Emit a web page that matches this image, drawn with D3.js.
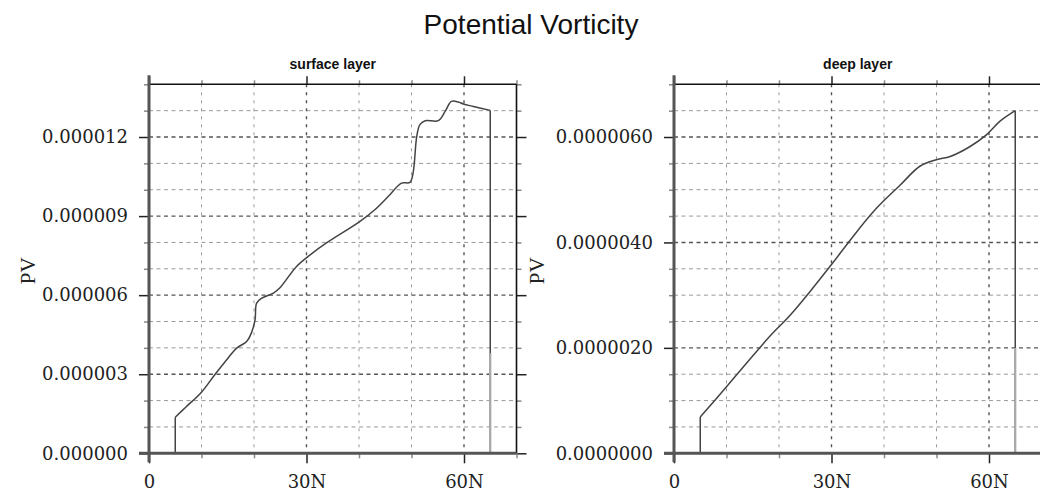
<!DOCTYPE html>
<html lang="en">
<head>
<meta charset="UTF-8" />
<title>Potential Vorticity</title>
<script src="https://d3js.org/d3.v7.min.js"></script>
<style>
  body { margin: 0; background: #fff; }
  svg { display: block; }
  .tick text { font-family: "DejaVu Serif", serif; font-size: 18px; fill: #222; }
  .title { font-family: "Liberation Sans", Arial, sans-serif; font-size: 28px; fill: #111; }
  .sub { font-family: "Liberation Sans", Arial, sans-serif; font-size: 14px; font-weight: bold; fill: #111; }
  .ylab { font-family: "Liberation Serif", serif; font-size: 21px; fill: #222; }
</style>
</head>
<body>
<svg id="chart" width="1040" height="491"></svg>
<script>
/* ---------------- DATA ---------------- */

const latMajor = [0, 30, 60];
const latLabels = ["0", "30N", "60N"];
const latMinor = [10, 20, 40, 50, 70];

// surface layer
const surfLat = [5, 5, 7, 10, 12.6, 15, 16.7, 18.6, 19.5, 20.2, 20.5, 21.5, 23.7, 24.9, 28.1, 30.7, 33.8,
  40.2, 43, 45.6, 48.1, 49.7, 50.3, 51.0, 51.6, 52.6, 55.1, 56.4, 57.6, 58.9, 59.9, 61.8, 65, 65];
const surfPV = [0, 1.37e-6, 1.75e-6, 2.32e-6, 3.0e-6, 3.6e-6, 3.99e-6, 4.24e-6, 4.56e-6, 5.06e-6, 5.7e-6,
  5.89e-6, 6.08e-6, 6.27e-6, 7.09e-6, 7.53e-6, 7.98e-6, 8.8e-6, 9.24e-6, 9.75e-6, 10.25e-6, 10.28e-6,
  10.63e-6, 12.02e-6, 12.47e-6, 12.62e-6, 12.62e-6, 12.97e-6, 13.35e-6, 13.33e-6, 13.25e-6, 13.16e-6, 13.01e-6, 0];
const surfTail = [3.8e-6, 0];
const surfMajor = [0, 3e-6, 6e-6, 9e-6, 12e-6];

// deep layer
const deepLat = [5, 5, 8, 11, 14, 17, 19, 21, 23, 26, 30, 34, 38.3, 43, 46.9, 50, 52.6, 56.4, 59.5, 62.1, 65, 65];
const deepPV = [0, 0.69e-6, 1.03e-6, 1.38e-6, 1.73e-6, 2.08e-6, 2.3e-6, 2.5e-6, 2.72e-6, 3.08e-6, 3.58e-6,
  4.1e-6, 4.62e-6, 5.08e-6, 5.45e-6, 5.57e-6, 5.63e-6, 5.82e-6, 6.04e-6, 6.3e-6, 6.5e-6, 0];
const deepTail = [2.0e-6, 0];
const deepMajor = [0, 2e-6, 4e-6, 6e-6];

const panels = [
  { name: "surface layer", lat: surfLat, pv: surfPV, tail: surfTail, major: surfMajor,
    minorStep: 1e-6, ymax: 14e-6, fmt: d3.format(".6f"), x0: 149, labX: 28 },
  { name: "deep layer", lat: deepLat, pv: deepPV, tail: deepTail, major: deepMajor,
    minorStep: 0.5e-6, ymax: 7e-6, fmt: d3.format(".7f"), x0: 674, labX: 537 }
];

/* ---------------- SETUP ---------------- */

const svg = d3.select("#chart");
const plotTop = 84.3, plotBottom = 453.3, pw = 367.5;

svg.append("text").attr("class", "title")
  .attr("x", 531).attr("y", 34).attr("text-anchor", "middle")
  .text("Potential Vorticity");

panels.forEach(p => {
  const x = d3.scaleLinear().domain([0, 70]).range([p.x0, p.x0 + pw]);
  const y = d3.scaleLinear().domain([0, p.ymax]).range([plotBottom, plotTop]);
  const isMajor = v => p.major.some(m => Math.abs(m - v) < 1e-12);
  const yMinor = d3.range(0, p.ymax + p.minorStep / 2, p.minorStep).filter(v => !isMajor(v));
  const g = svg.append("g");

  /* grid */
  g.selectAll(".hgrid").data(d3.range(0, p.ymax, p.minorStep).slice(1))
    .join("line")
    .attr("x1", x(0)).attr("x2", x(70))
    .attr("y1", d => y(d)).attr("y2", d => y(d))
    .attr("stroke", d => isMajor(d) ? "#555" : "#999")
    .attr("stroke-width", d => isMajor(d) ? 1.4 : 1)
    .attr("stroke-dasharray", "4,3.5");

  g.selectAll(".vgrid").data([10, 20, 30, 40, 50, 60])
    .join("line")
    .attr("x1", d => x(d)).attr("x2", d => x(d))
    .attr("y1", plotTop).attr("y2", plotBottom)
    .attr("stroke", d => d % 30 === 0 ? "#555" : "#999")
    .attr("stroke-width", d => d % 30 === 0 ? 1.4 : 1)
    .attr("stroke-dasharray", "3,5");

  /* curve: smooth interior, straight drops at both ends */
  const pts = p.lat.map((v, i) => [v, p.pv[i]]);
  const n = pts.length;
  const smooth = d3.line().x(d => x(d[0])).y(d => y(d[1])).curve(d3.curveCatmullRom.alpha(0.5));
  const straight = d3.line().x(d => x(d[0])).y(d => y(d[1]));
  const curveStyle = s => s.attr("fill", "none").attr("stroke", "#444").attr("stroke-width", 1.5);

  g.append("path").datum(pts.slice(1, n - 1)).attr("d", smooth).call(curveStyle);
  g.append("path").datum(pts.slice(0, 2)).attr("d", straight).call(curveStyle);
  g.append("path").datum(pts.slice(n - 2)).attr("d", straight).call(curveStyle);

  g.append("path")
    .datum(p.tail.map(v => [65, v]))
    .attr("d", straight)
    .attr("fill", "none").attr("stroke", "#aaa").attr("stroke-width", 2.2);

  /* axes */
  const styleAxis = (sel, color) => {
    sel.select(".domain").remove();
    sel.selectAll(".tick line").attr("stroke", color).attr("stroke-width", 1.5);
  };

  g.append("g").attr("transform", `translate(${x(0)},0)`)
    .call(d3.axisLeft(y).tickValues(p.major).tickSize(10).tickPadding(11).tickFormat(p.fmt))
    .call(s => styleAxis(s, "#222"));
  g.append("g").attr("transform", `translate(${x(0)},0)`)
    .call(d3.axisLeft(y).tickValues(yMinor).tickSize(5).tickFormat(""))
    .call(s => styleAxis(s, "#888"));
  g.append("g").attr("transform", `translate(${x(70)},0)`)
    .call(d3.axisRight(y).tickValues(p.major).tickSize(10).tickFormat(""))
    .call(s => styleAxis(s, "#222"));
  g.append("g").attr("transform", `translate(${x(70)},0)`)
    .call(d3.axisRight(y).tickValues(yMinor).tickSize(5).tickFormat(""))
    .call(s => styleAxis(s, "#888"));

  g.append("g").attr("transform", `translate(0,${plotBottom})`)
    .call(d3.axisBottom(x).tickValues(latMajor).tickSize(10).tickPadding(11.8)
      .tickFormat((d, i) => latLabels[i]))
    .call(s => styleAxis(s, "#222"));
  g.append("g").attr("transform", `translate(0,${plotBottom})`)
    .call(d3.axisBottom(x).tickValues(latMinor).tickSize(5).tickFormat(""))
    .call(s => styleAxis(s, "#888"));
  g.append("g").attr("transform", `translate(0,${plotTop})`)
    .call(d3.axisTop(x).tickValues(latMajor).tickSize(8).tickFormat(""))
    .call(s => styleAxis(s, "#222"));
  g.append("g").attr("transform", `translate(0,${plotTop})`)
    .call(d3.axisTop(x).tickValues(latMinor).tickSize(4).tickFormat(""))
    .call(s => styleAxis(s, "#888"));

  /* frame */
  g.append("line").attr("x1", x(0)).attr("x2", x(70)).attr("y1", plotTop).attr("y2", plotTop)
    .attr("stroke", "#111").attr("stroke-width", 1.6);
  g.append("line").attr("x1", x(70)).attr("x2", x(70)).attr("y1", plotTop).attr("y2", plotBottom)
    .attr("stroke", "#111").attr("stroke-width", 1.6);
  g.append("line").attr("x1", x(0) - 10).attr("x2", x(70)).attr("y1", plotBottom).attr("y2", plotBottom)
    .attr("stroke", "#555").attr("stroke-width", 3);
  g.append("line").attr("x1", x(0)).attr("x2", x(0)).attr("y1", plotTop - 9).attr("y2", plotBottom + 9)
    .attr("stroke", "#555").attr("stroke-width", 3);

  /* labels */
  g.append("text").attr("class", "sub")
    .attr("x", (x(0) + x(70)) / 2).attr("y", 69).attr("text-anchor", "middle")
    .text(p.name);
  g.append("text").attr("class", "ylab")
    .attr("transform", `translate(${p.labX},${(plotTop + plotBottom) / 2 + 2}) rotate(-90)`)
    .attr("text-anchor", "middle").attr("dy", "0.35em")
    .text("PV");
});
</script>
</body>
</html>
